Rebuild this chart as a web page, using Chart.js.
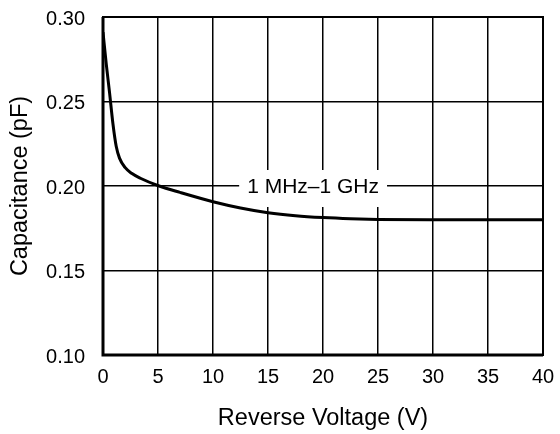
<!DOCTYPE html>
<html>
<head>
<meta charset="utf-8">
<script src="https://cdn.jsdelivr.net/npm/chart.js@4"></script>
<style>
  html, body { margin: 0; padding: 0; background: #fff; }
  #wrap { width: 560px; height: 434px; }
</style>
</head>
<body>
<div id="wrap"><canvas id="capChart" width="560" height="434"></canvas></div>
<script>
// Capacitance vs reverse voltage
const voltage = [0, 0.3, 0.6, 0.9, 1.2, 1.5, 2.0, 2.6, 3.4, 5.1, 7, 10, 12.5, 15, 17.5, 20, 22.5, 25, 30, 35, 40];
const capacitance = [0.291, 0.272, 0.255, 0.237, 0.2235, 0.2165, 0.2110, 0.2075, 0.2046, 0.2000, 0.1962, 0.1907, 0.1870, 0.1842, 0.1824, 0.1813, 0.1806, 0.1802, 0.1800, 0.1800, 0.1800];
const xTicks = [0, 5, 10, 15, 20, 25, 30, 35, 40];
const yTicks = [0.10, 0.15, 0.20, 0.25, 0.30];
const curveLabel = '1 MHz\u20131 GHz';
const labelAt = { x: 19.1, y: 0.20 };

const FONT = "'Liberation Sans', Arial, sans-serif";

const labelPlugin = {
    id: 'curveLabel',
    beforeDatasetsDraw(chart) {
        const { ctx, scales } = chart;
        const px = scales.x.getPixelForValue(labelAt.x);
        const py = scales.y.getPixelForValue(labelAt.y);
        ctx.save();
        ctx.font = '21px ' + FONT;
        const w = ctx.measureText(curveLabel).width;
        ctx.fillStyle = '#fff';
        ctx.fillRect(px - w / 2 - 8, py - 16, w + 16, 37);
        ctx.fillStyle = '#000';
        ctx.textAlign = 'center';
        ctx.textBaseline = 'middle';
        ctx.fillText(curveLabel, px, py + 1);
        ctx.restore();
    }
};

const framePlugin = {
    id: 'frame',
    afterDatasetsDraw(chart) {
        const { ctx, chartArea: a } = chart;
        ctx.save();
        ctx.strokeStyle = '#000';
        ctx.lineWidth = 2;
        ctx.strokeRect(a.left, a.top, a.right - a.left, a.bottom - a.top);
        ctx.lineWidth = 3;
        ctx.beginPath();
        ctx.moveTo(a.left, a.top);
        ctx.lineTo(a.left, a.bottom);
        ctx.lineTo(a.right, a.bottom);
        ctx.stroke();
        ctx.restore();
    }
};

new Chart(document.getElementById('capChart').getContext('2d'), {
    type: 'line',
    data: {
        datasets: [{
            data: voltage.map((v, i) => ({ x: v, y: capacitance[i] })),
            borderColor: '#000',
            borderWidth: 3,
            pointRadius: 0,
            fill: false,
            cubicInterpolationMode: 'monotone'
        }]
    },
    options: {
        responsive: false,
        animation: false,
        events: [],
        layout: { padding: { top: 17, right: 17, left: 0, bottom: 0 } },
        plugins: { legend: { display: false }, tooltip: { enabled: false } },
        scales: {
            x: {
                type: 'linear', min: 0, max: 40,
                afterBuildTicks: s => { s.ticks = xTicks.map(v => ({ value: v })); },
                afterFit: s => { s.height = 79; s.paddingLeft = 0; s.paddingRight = 0; },
                grid: { color: '#000', lineWidth: 1.5, drawTicks: false },
                border: { display: false },
                ticks: { color: '#000', font: { family: FONT, size: 20 }, padding: 10, maxRotation: 0 },
                title: { display: true, text: 'Reverse Voltage (V)', color: '#000', font: { family: FONT, size: 23.5 }, padding: { top: 4, bottom: 1 } }
            },
            y: {
                type: 'linear', min: 0.10, max: 0.30,
                afterBuildTicks: s => { s.ticks = yTicks.map(v => ({ value: v })); },
                afterFit: s => { s.width = 103; s.paddingTop = 0; s.paddingBottom = 0; },
                grid: { color: '#000', lineWidth: 1.5, drawTicks: false },
                border: { display: false },
                ticks: { color: '#000', font: { family: FONT, size: 20 }, padding: 18, labelOffset: 2, callback: v => v.toFixed(2) },
                title: { display: true, text: 'Capacitance (pF)', color: '#000', font: { family: FONT, size: 23.5 }, padding: { top: 6, bottom: 0 } }
            }
        }
    },
    plugins: [labelPlugin, framePlugin]
});
</script>
</body>
</html>
